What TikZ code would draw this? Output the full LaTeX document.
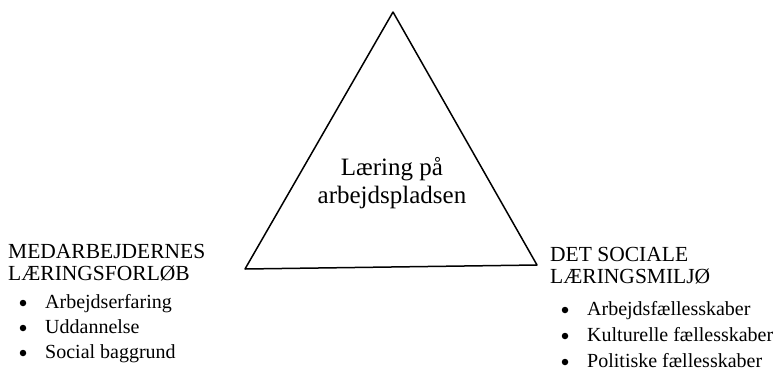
\documentclass[tikz,border=0pt]{standalone}
\usepackage{fontspec}
\setmainfont{Liberation Serif}
\usetikzlibrary{
    positioning,
    calc
}

\begin{document}
\begin{tikzpicture}[x=1pt, y=-1pt,
    heading/.style={font=\fontsize{21.5}{21.5}\selectfont, inner sep=0pt, align=left, anchor=base west},
    item/.style={font=\fontsize{20}{22}\selectfont, inner sep=0pt, anchor=base west},
    dot/.style={circle, fill, inner sep=0pt, minimum size=6.5pt}]
                \useasboundingbox (0, 0) rectangle (776, 375);
                % triangle
                \coordinate (top) at (393, 12);
                \coordinate (left) at (245, 269);
                \coordinate (right) at (537, 265);
                \draw[line width=1.5pt, line join=round] (top) -- (left) -- (right) -- cycle;
                \node[font=\fontsize{25}{28}\selectfont, align=center, inner sep=0pt] (center) at (392, 183) {L{\ae}ring p{\aa}\\arbejdspladsen};

                % left side
                \node[heading] (medarb) at (8, 280) {MEDARBEJDERNES\\L{\AE}RINGSFORL{\O}B};
                \foreach \t [count=\i] in {Arbejdserfaring, Uddannelse, Social baggrund}{
                    \node[dot] (ldot\i) at (23, 278+25*\i) {};
                    \node[item] (litem\i) at (45, 283+25*\i) {\t};
                }

                % right side
                \node[heading] (social) at (550, 283) {DET SOCIALE\\L{\AE}RINGSMILJ{\O}};
                \foreach \t [count=\i] in {Arbejdsf{\ae}llesskaber, Kulturelle f{\ae}llesskaber, Politiske f{\ae}llesskaber}{
                    \node[dot] (rdot\i) at (565, 284+26*\i) {};
                    \node[item] (ritem\i) at (587, 289+26*\i) {\t};
                }
            \end{tikzpicture}
\end{document}
